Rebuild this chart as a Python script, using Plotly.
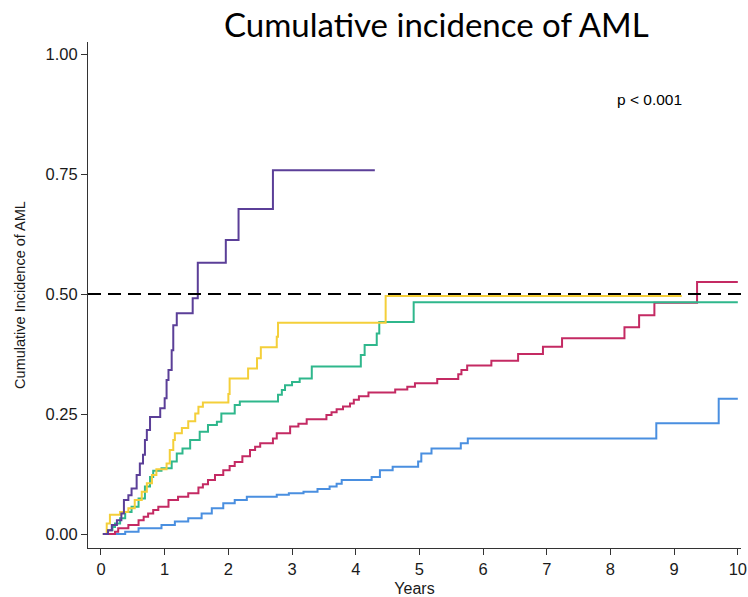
import plotly.graph_objects as go

# Step-function cumulative incidence curves (time in years, cumulative incidence)
purple_t = [0.03, 0.11, 0.17, 0.25, 0.32, 0.36, 0.43, 0.48, 0.56, 0.61, 0.66, 0.69, 0.72, 0.77,
            0.93, 1.00, 1.03, 1.06, 1.11, 1.135, 1.19, 1.44, 1.52, 1.96, 2.16, 2.70, 4.30]
purple_v = [0.0, 0.008, 0.019, 0.029, 0.043, 0.071, 0.081, 0.095, 0.123, 0.147, 0.165, 0.196, 0.217, 0.244,
            0.262, 0.283, 0.321, 0.342, 0.383, 0.435, 0.460, 0.491, 0.565, 0.6125, 0.677, 0.758, 0.758]

yellow_t = [0.03, 0.09, 0.14, 0.30, 0.43, 0.53, 0.64, 0.72, 0.80, 0.87, 1.03, 1.08, 1.135, 1.16, 1.27,
            1.37, 1.48, 1.53, 1.60, 2.00, 2.02, 2.31, 2.45, 2.51, 2.76, 2.78, 4.47, 9.12]
yellow_v = [0.0, 0.022, 0.040, 0.046, 0.054, 0.071, 0.088, 0.106, 0.123, 0.135, 0.147, 0.175, 0.196, 0.210, 0.221,
            0.235, 0.251, 0.265, 0.274, 0.292, 0.324, 0.345, 0.366, 0.389, 0.411, 0.440, 0.496, 0.496]

green_t = [0.03, 0.11, 0.18, 0.22, 0.30, 0.38, 0.48, 0.59, 0.69, 0.77, 0.82, 0.95, 1.11, 1.19, 1.28, 1.40,
           1.55, 1.68, 1.82, 1.89, 2.10, 2.18, 2.78, 2.84, 2.89, 3.00, 3.12, 3.31, 4.08, 4.14, 4.33, 4.37,
           4.91, 10.0]
green_v = [0.0, 0.008, 0.015, 0.022, 0.033, 0.046, 0.057, 0.074, 0.099, 0.119, 0.132, 0.137, 0.151, 0.168, 0.178, 0.196,
           0.213, 0.227, 0.234, 0.251, 0.269, 0.276, 0.290, 0.300, 0.310, 0.317, 0.324, 0.349, 0.373, 0.394, 0.418, 0.442,
           0.483, 0.483]

red_t = [0.03, 0.22, 0.27, 0.43, 0.59, 0.67, 0.74, 0.82, 0.90, 1.06, 1.21, 1.37, 1.53, 1.60, 1.68, 1.79, 1.92,
         2.02, 2.10, 2.22, 2.34, 2.42, 2.50, 2.70, 2.76, 2.97, 3.10, 3.23, 3.54, 3.62, 3.70, 3.80, 3.91, 3.97,
         4.05, 4.20, 4.62, 4.81, 4.93, 5.28, 5.61, 5.66, 5.75, 6.13, 6.55, 6.94, 7.24, 8.22, 8.45, 8.69, 9.36, 10.0]
red_v = [0.0, 0.005, 0.012, 0.019, 0.029, 0.036, 0.043, 0.050, 0.057, 0.071, 0.078, 0.085, 0.097, 0.104, 0.1125, 0.123, 0.133,
         0.142, 0.150, 0.162, 0.175, 0.182, 0.189, 0.199, 0.210, 0.224, 0.230, 0.239, 0.248, 0.254, 0.260, 0.266, 0.272, 0.280,
         0.287, 0.295, 0.301, 0.307, 0.314, 0.323, 0.333, 0.342, 0.351, 0.361, 0.375, 0.390, 0.408, 0.431, 0.456, 0.482, 0.525, 0.525]

blue_t = [0.03, 0.38, 0.59, 0.95, 1.16, 1.37, 1.58, 1.74, 1.92, 2.10, 2.29, 2.76, 2.95, 3.18, 3.40, 3.59, 3.70,
          3.78, 4.25, 4.38, 4.58, 4.98, 5.03, 5.19, 5.65, 5.76, 8.72, 9.70, 10.0]
blue_v = [0.0, 0.005, 0.012, 0.019, 0.026, 0.033, 0.043, 0.054, 0.064, 0.071, 0.078, 0.082, 0.085, 0.088, 0.094, 0.099, 0.105,
          0.1125, 0.119, 0.133, 0.140, 0.151, 0.168, 0.178, 0.189, 0.199, 0.231, 0.282, 0.282]

x_ticks = [0, 1, 2, 3, 4, 5, 6, 7, 8, 9, 10]
y_ticks = [0.00, 0.25, 0.50, 0.75, 1.00]
y_tick_labels = ["0.00", "0.25", "0.50", "0.75", "1.00"]

series = [
    (blue_t, blue_v, "#4a8fe0"),
    (red_t, red_v, "#c42a63"),
    (green_t, green_v, "#2fb78c"),
    (yellow_t, yellow_v, "#f4cf3a"),
    (purple_t, purple_v, "#5b3f98"),
]

fig = go.Figure()
for t, v, color in series:
    fig.add_trace(go.Scatter(x=t, y=v, mode="lines", line=dict(color=color, width=2, shape="hv"),
                             showlegend=False, hoverinfo="skip"))

# reference line at 50% incidence
fig.add_shape(type="line", xref="paper", yref="y", x0=0, x1=1.02, y0=0.5, y1=0.5,
              line=dict(color="black", width=2, dash="13px,7px"), layer="above")

sans = "Liberation Sans, Arial, sans-serif"
tick_font = dict(family=sans, size=16.5, color="#1a1a1a")

fig.update_xaxes(range=[-0.204, 10.05], tickvals=x_ticks, ticks="outside", ticklen=6, tickwidth=1,
                 tickcolor="#333", showline=True, linecolor="#333", linewidth=1, showgrid=False,
                 zeroline=False, tickfont=tick_font, automargin=False,
                 title=dict(text="Years", font=dict(family=sans, size=16, color="#1a1a1a"), standoff=8))
fig.update_yaxes(range=[-0.029, 1.025], tickvals=y_ticks, ticktext=y_tick_labels, ticks="outside",
                 ticklen=6, tickwidth=1, tickcolor="#333", showline=True, linecolor="#333", linewidth=1,
                 showgrid=False, zeroline=False, tickfont=tick_font, automargin=False,
                 title=dict(text="Cumulative Incidence of AML",
                            font=dict(family=sans, size=14.5, color="#1a1a1a"),
                            standoff=16))

fig.add_annotation(text="Cumulative incidence of AML", xref="paper", yref="paper", x=0.534, y=1.036,
                   xanchor="center", yanchor="middle", showarrow=False,
                   font=dict(family="Lato, sans-serif", size=33, color="black"))
fig.add_annotation(text="p < 0.001", xref="x", yref="y", x=8.62, y=0.906, xanchor="center",
                   yanchor="middle", showarrow=False,
                   font=dict(family=sans, size=15.5, color="black"))

fig.update_layout(width=748, height=597, margin=dict(l=88, r=7, t=42, b=49),
                  paper_bgcolor="white", plot_bgcolor="white")

fig.write_html("out.html")
